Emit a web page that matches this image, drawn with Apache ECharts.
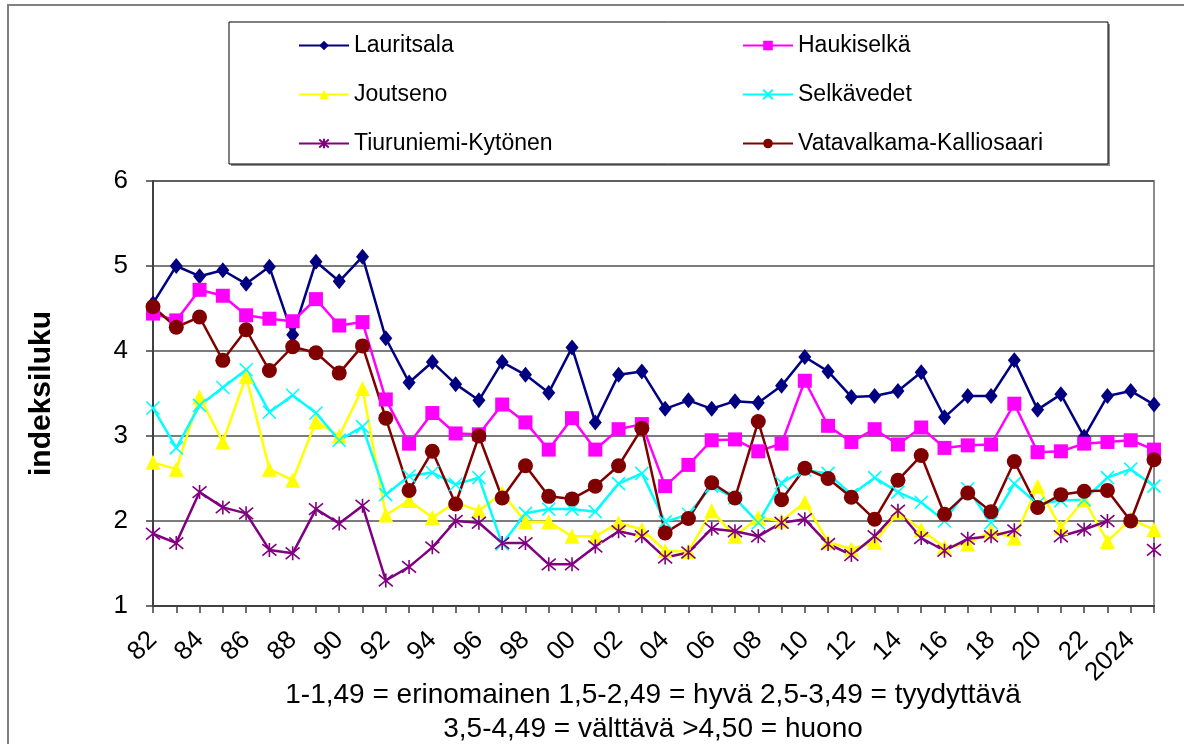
<!DOCTYPE html>
<html>
<head>
<meta charset="utf-8">
<script src="https://cdn.jsdelivr.net/npm/echarts@6/dist/echarts.min.js"></script>
<style>
  html, body { margin: 0; padding: 0; background: #fff; }
  #main { width: 1184px; height: 744px; }
</style>
</head>
<body>
<div id="main"></div>
<script>
// vuodet (x-akselin nimikkeet)
var years = ['82', '83', '84', '85', '86', '87', '88', '89', '90', '91',
  '92', '93', '94', '95', '96', '97', '98', '99', '00', '01',
  '02', '03', '04', '05', '06', '07', '08', '09', '10', '11',
  '12', '13', '14', '15', '16', '17', '18', '19', '20', '21',
  '22', '23', '2024', '25'];

var yTicks = [1, 2, 3, 4, 5, 6];

var lauritsala = [4.56, 5.00, 4.88, 4.95, 4.79, 4.99, 4.19, 5.05, 4.82, 5.11,
  4.15, 3.63, 3.87, 3.61, 3.42, 3.87, 3.72, 3.51, 4.04, 3.16,
  3.72, 3.76, 3.32, 3.42, 3.32, 3.41, 3.39, 3.59, 3.93, 3.76,
  3.46, 3.47, 3.53, 3.75, 3.22, 3.47, 3.47, 3.89, 3.31, 3.49,
  2.99, 3.47, 3.53, 3.37];

var haukiselka = [4.44, 4.36, 4.72, 4.65, 4.42, 4.38, 4.35, 4.61, 4.30, 4.34,
  3.43, 2.91, 3.27, 3.03, 3.02, 3.37, 3.16, 2.84, 3.21, 2.84,
  3.08, 3.14, 2.41, 2.66, 2.95, 2.96, 2.82, 2.91, 3.65, 3.12,
  2.93, 3.08, 2.90, 3.10, 2.86, 2.89, 2.90, 3.38, 2.81, 2.82,
  2.91, 2.93, 2.95, 2.84];

var joutseno = [2.69, 2.61, 3.46, 2.93, 3.70, 2.61, 2.48, 3.17, 3.00, 3.56,
  2.07, 2.24, 2.04, 2.22, 2.12, 2.33, 1.99, 1.99, 1.82, 1.82,
  1.98, 1.90, 1.65, 1.64, 2.12, 1.82, 2.04, 2.00, 2.22, 1.75,
  1.67, 1.75, 2.10, 1.90, 1.69, 1.73, 1.88, 1.80, 2.41, 1.92,
  2.25, 1.76, 2.02, 1.90];

var selkavedet = [3.33, 2.86, 3.36, 3.57, 3.78, 3.28, 3.48, 3.27, 2.95, 3.11,
  2.31, 2.53, 2.57, 2.43, 2.51, 1.73, 2.09, 2.14, 2.14, 2.11,
  2.44, 2.56, 1.99, 2.08, 2.41, 2.27, 1.98, 2.45, 2.60, 2.56,
  2.31, 2.51, 2.34, 2.22, 2.00, 2.38, 1.98, 2.44, 2.20, 2.24,
  2.25, 2.51, 2.61, 2.41];

var tiuruniemi = [1.85, 1.74, 2.34, 2.16, 2.09, 1.66, 1.62, 2.14, 1.97, 2.18,
  1.30, 1.46, 1.69, 2.00, 1.98, 1.74, 1.74, 1.49, 1.49, 1.70,
  1.88, 1.82, 1.57, 1.63, 1.91, 1.88, 1.82, 1.98, 2.02, 1.73,
  1.60, 1.82, 2.12, 1.80, 1.65, 1.79, 1.82, 1.89, null, 1.82,
  1.90, 2.00, null, 1.66];

var vatavalkama = [4.52, 4.28, 4.40, 3.89, 4.25, 3.77, 4.05, 3.98, 3.74, 4.06,
  3.21, 2.36, 2.82, 2.20, 3.00, 2.27, 2.65, 2.29, 2.26, 2.41,
  2.65, 3.09, 1.86, 2.03, 2.45, 2.27, 3.17, 2.25, 2.62, 2.50,
  2.28, 2.02, 2.48, 2.77, 2.08, 2.33, 2.11, 2.70, 2.16, 2.31,
  2.35, 2.36, 2.00, 2.72];

var footLines = ['1-1,49 = erinomainen 1,5-2,49 = hyvä 2,5-3,49 = tyydyttävä',
  '3,5-4,49 = välttävä >4,50 = huono'];

var FONT = 'Liberation Sans';
var X_MARK = 'path://M0,0L10,10M0,10L10,0';
var STAR_MARK = 'path://M0,0L10,10M0,10L10,0M5,-1L5,11';

function lineSerie(name, data, color, symbol, size, stroke) {
  var s = {
    name: name,
    type: 'line',
    data: data,
    color: color,
    symbol: symbol,
    symbolSize: size,
    showAllSymbol: true,
    connectNulls: false,
    lineStyle: { color: color, width: 2.5 },
    itemStyle: { color: color },
    emphasis: { disabled: true }
  };
  if (stroke) {
    s.itemStyle = { color: 'none', borderColor: color, borderWidth: 1.6 };
  }
  return s;
}

var myChart = echarts.init(document.getElementById('main'));
var option = {
  animation: false,
  textStyle: { fontFamily: FONT },
  graphic: [
    {
      type: 'rect', z: -10,
      shape: { x: 8, y: 5, width: 1200, height: 800 },
      style: { fill: 'none', stroke: '#808080', lineWidth: 2 }
    },
    {
      type: 'rect', z: -10,
      shape: { x: 231, y: 24, width: 879, height: 142 },
      style: { fill: '#909090' }
    },
    {
      type: 'rect', z: -9,
      shape: { x: 229, y: 22, width: 879, height: 142 },
      style: { fill: '#fff', stroke: '#000', lineWidth: 1 }
    },
    {
      type: 'text',
      x: 653, y: 678,
      style: {
        text: footLines.join('\n'),
        font: '28px "' + FONT + '"',
        fill: '#000',
        align: 'center',
        verticalAlign: 'top',
        lineHeight: 34
      }
    }
  ],
  legend: {
    left: 298,
    top: 34,
    padding: 0,
    itemWidth: 50,
    itemHeight: 12,
    itemGap: 26,
    width: 900,
    textStyle: { fontSize: 23, fontFamily: FONT, color: '#000', width: 362, lineHeight: 21 },
    data: ['Lauritsala', 'Haukiselkä', 'Joutseno', 'Selkävedet', 'Tiuruniemi-Kytönen', 'Vatavalkama-Kalliosaari']
  },
  grid: {
    left: 153, right: 30, top: 181, bottom: 138,
    show: true, borderColor: '#8c8c8c', borderWidth: 2, backgroundColor: '#fff'
  },
  xAxis: {
    type: 'category',
    data: years,
    boundaryGap: false,
    axisLine: { lineStyle: { color: '#404040', width: 2 } },
    axisTick: { interval: 0, length: 7, lineStyle: { color: '#404040', width: 1.5 } },
    axisLabel: { interval: 1, rotate: 45, margin: 30, fontSize: 26, color: '#000' },
    splitLine: { show: false }
  },
  yAxis: {
    type: 'value',
    min: yTicks[0],
    max: yTicks[yTicks.length - 1],
    interval: 1,
    name: 'indeksiluku',
    nameLocation: 'middle',
    nameGap: 96,
    nameTextStyle: { fontSize: 30, fontWeight: 'bold', color: '#000' },
    axisLine: { show: true, lineStyle: { color: '#404040', width: 2 } },
    axisTick: { show: true, length: 7, lineStyle: { color: '#404040', width: 1.5 } },
    axisLabel: { margin: 25, fontSize: 26, color: '#000' },
    splitLine: { lineStyle: { color: '#505050', width: 1.5 } }
  },
  series: [
    lineSerie('Lauritsala', lauritsala, '#000080', 'diamond', [13, 16]),
    lineSerie('Haukiselkä', haukiselka, '#ff00ff', 'rect', 14),
    lineSerie('Joutseno', joutseno, '#ffff00', 'triangle', 15),
    lineSerie('Selkävedet', selkavedet, '#00ffff', X_MARK, 13, true),
    lineSerie('Tiuruniemi-Kytönen', tiuruniemi, '#800080', STAR_MARK, 14, true),
    lineSerie('Vatavalkama-Kalliosaari', vatavalkama, '#800000', 'circle', 15)
  ]
};
myChart.setOption(option);
</script>
</body>
</html>
